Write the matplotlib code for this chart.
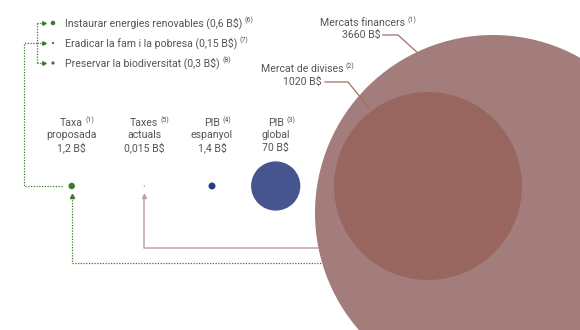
import numpy as np
import matplotlib
matplotlib.use('Agg')
import matplotlib.pyplot as plt
from matplotlib.patches import Circle

plt.rcParams['font.family'] = ['Roboto', 'DejaVu Sans']

# values in billions of dollars (B$)
small_labels = ['Taxa\nproposada', 'Taxes\nactuals', 'PIB\nespanyol', 'PIB\nglobal']
small_notes = [1, 5, 4, 3]
small_values = [1.2, 0.015, 1.4, 70]
small_value_text = ['1,2 B$', '0,015 B$', '1,4 B$', '70 B$']

market_labels = ['Mercats financers', 'Mercat de divises']
market_notes = [1, 2]
market_values = [3660, 1020]
market_value_text = ['3660 B$', '1020 B$']

goal_labels = ['Instaurar energies renovables', 'Eradicar la fam i la pobresa',
               'Preservar la biodiversitat']
goal_notes = [6, 7, 8]
goal_values = [0.6, 0.15, 0.3]
goal_value_text = ['0,6 B$', '0,15 B$', '0,3 B$']

TXT = '#555555'
GREEN = '#3d7a2f'
BROWN_LINE = '#c2a3a3'
R_BIG = 178.0
FS = 7.6


def radius(v):
    return R_BIG * np.sqrt(v / market_values[0])


fig = plt.figure(figsize=(5.8, 3.3), dpi=100)
ax = fig.add_axes([0, 0, 1, 1])
ax.set_xlim(0, 580)
ax.set_ylim(330, 0)
ax.axis('off')
renderer = fig.canvas.get_renderer()


def label(x, y, s, ha='center', note=None):
    t = ax.text(x, y, s, ha=ha, va='center', fontsize=FS, color=TXT, zorder=5)
    if note is not None:
        bb = t.get_window_extent(renderer)
        x_end = ax.transData.inverted().transform((bb.x1, bb.y1))[0]
        ax.text(x_end + 2.5, y - 3, '(%d)' % note, ha='left', va='center',
                fontsize=5, color=TXT, zorder=5)
    return t


# market circles
big_c = (493, 213)
inner_c = (428, 186)
ax.add_patch(Circle(big_c, radius(market_values[0]), color='#a27d7b', lw=0, zorder=3))
ax.add_patch(Circle(inner_c, radius(market_values[1]), color='#98665f', lw=0, zorder=4))

# small circles in a row
row_y = 186
xs = [71.7, 144.3, 212, 275.7]
cols = [GREEN, '#e03c2c', '#263d8c', '#46548f']
for x, v, c, lab, n, vt in zip(xs, small_values, cols, small_labels, small_notes,
                               small_value_text):
    ax.add_patch(Circle((x, row_y), max(radius(v), 0.6), color=c, lw=0, zorder=3))
    first, second = lab.split('\n')
    label(x, 123, first, note=n)
    label(x, 135.5, second)
    label(x, 148, vt)

# connector: current taxes -> financial markets
ax.plot([144.3, 144.3, 318], [196, 248, 248], color=BROWN_LINE, lw=1.1, zorder=2)
ax.plot([144.3], [195.5], marker='^', ms=3, color=BROWN_LINE, zorder=2)

# connector: proposed tax -> financial markets
ax.plot([71.7, 71.7, 322], [197, 263, 263], color=GREEN, lw=0.9, ls=(0, (1, 1.2)),
        zorder=2)
ax.plot([71.7], [195.5], marker='^', ms=3, color=GREEN, zorder=2)

# connector: proposed tax -> goals
goal_y = [23, 43, 63]
ax.plot([62, 24, 24, 37], [186, 186, 43, 43], color=GREEN, lw=0.9, ls=(0, (1, 1.2)))
ax.plot([37, 37], [goal_y[0], goal_y[-1]], color=GREEN, lw=0.9, ls=(0, (1, 1.2)))
for y, lab, n, v, vt in zip(goal_y, goal_labels, goal_notes, goal_values, goal_value_text):
    ax.plot([37, 43], [y, y], color=GREEN, lw=0.9, ls=(0, (1, 1.2)))
    ax.plot([43.5], [y], marker='>', ms=2.5, color=GREEN)
    ax.add_patch(Circle((53, y), radius(v), color=GREEN, lw=0))
    label(65, y, '%s (%s)' % (lab, vt), ha='left', note=n)

# market labels with leader lines
label(362, 23, market_labels[0], note=market_notes[0])
label(361.5, 35, market_value_text[0])
ax.plot([383, 398, 416.7], [35, 35, 52], color='#a06f6a', lw=0.9, zorder=2)

label(302, 69, market_labels[1], note=market_notes[1])
label(302, 82, market_value_text[1])
ax.plot([325, 348, 370], [82, 82, 109], color='#a06f6a', lw=0.9, zorder=5)

fig.savefig('out.png', dpi=100)
